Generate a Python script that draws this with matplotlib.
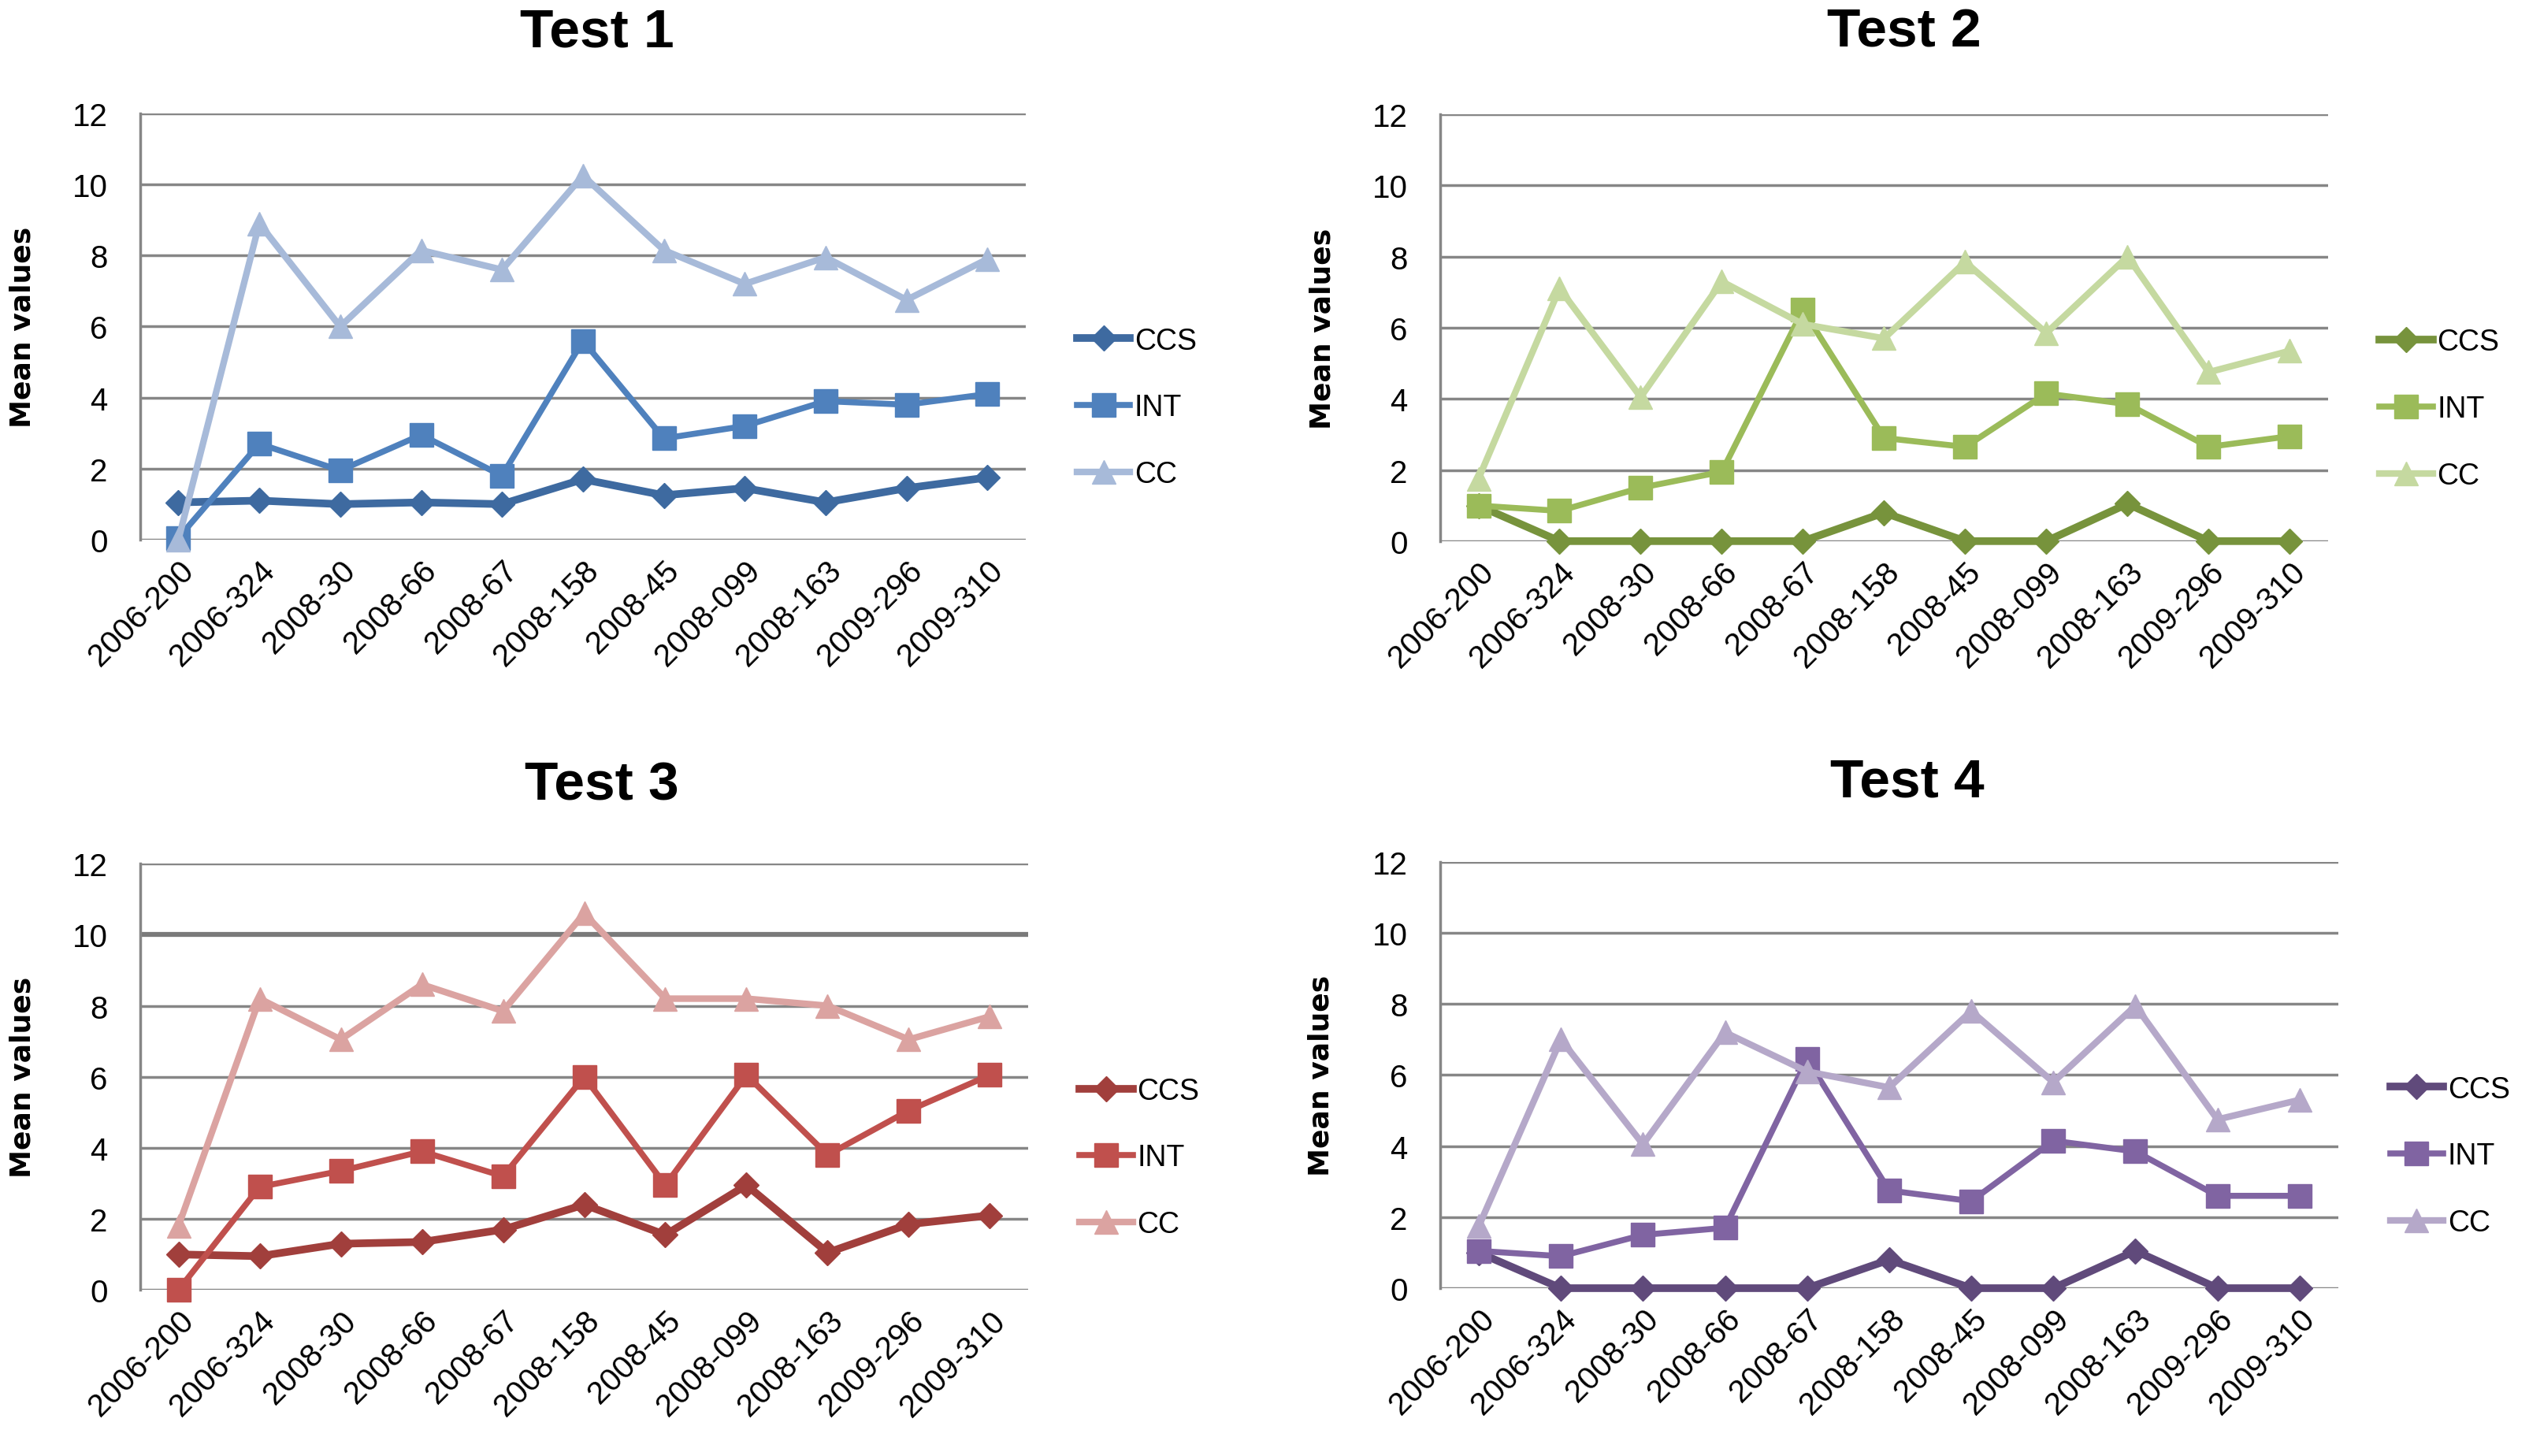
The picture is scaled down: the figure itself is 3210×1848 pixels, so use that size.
import matplotlib
matplotlib.use('Agg')
import matplotlib.pyplot as plt

plt.rcParams['font.family'] = ['Liberation Sans', 'DejaVu Sans']

# Data
samples = ['2006-200', '2006-324', '2008-30', '2008-66', '2008-67', '2008-158',
           '2008-45', '2008-099', '2008-163', '2009-296', '2009-310']
series_names = ['CCS', 'INT', 'CC']

test1_ccs = [1.05, 1.1, 1.0, 1.05, 1.0, 1.7, 1.25, 1.45, 1.05, 1.45, 1.75]
test1_int = [0.05, 2.7, 1.95, 2.95, 1.8, 5.6, 2.85, 3.2, 3.9, 3.8, 4.1]
test1_cc = [0.0, 8.9, 6.0, 8.15, 7.6, 10.25, 8.15, 7.2, 7.95, 6.75, 7.9]

test2_ccs = [1.0, 0, 0, 0, 0, 0.8, 0, 0, 1.05, 0, 0]
test2_int = [1.0, 0.85, 1.5, 1.95, 6.5, 2.9, 2.65, 4.15, 3.85, 2.65, 2.95]
test2_cc = [1.75, 7.1, 4.05, 7.3, 6.1, 5.7, 7.85, 5.85, 8.0, 4.75, 5.35]

test3_ccs = [1.0, 0.95, 1.3, 1.35, 1.7, 2.4, 1.55, 2.95, 1.05, 1.85, 2.1]
test3_int = [0.0, 2.9, 3.35, 3.9, 3.2, 6.0, 2.95, 6.05, 3.8, 5.05, 6.05]
test3_cc = [1.8, 8.2, 7.05, 8.6, 7.85, 10.6, 8.2, 8.2, 8.0, 7.05, 7.7]

test4_ccs = [1.0, 0, 0, 0, 0, 0.8, 0, 0, 1.05, 0, 0]
test4_int = [1.05, 0.9, 1.5, 1.7, 6.45, 2.75, 2.45, 4.15, 3.85, 2.6, 2.6]
test4_cc = [1.75, 7.0, 4.05, 7.2, 6.1, 5.65, 7.8, 5.8, 7.95, 4.75, 5.3]

panels = [
    ('Test 1', [test1_ccs, test1_int, test1_cc], ['#3e6aa0', '#4f81bd', '#a7bad9'],
     [0.0555, 0.629, 0.350, 0.2926], (0.236, 0.995)),
    ('Test 2', [test2_ccs, test2_int, test2_cc], ['#77933c', '#9bbb59', '#c5d9a0'],
     [0.5695, 0.628, 0.351, 0.2930], (0.753, 0.995)),
    ('Test 3', [test3_ccs, test3_int, test3_cc], ['#a13f3c', '#c0504d', '#dba3a1'],
     [0.0555, 0.114, 0.351, 0.2926], (0.238, 0.478)),
    ('Test 4', [test4_ccs, test4_int, test4_cc], ['#604a7b', '#8064a2', '#b5a8c9'],
     [0.5695, 0.1152, 0.355, 0.2926], (0.754, 0.480)),
]

markers = ['D', 's', '^']
msizes = [16, 22, 22]
lwidths = [7.0, 5.5, 6.0]

fig = plt.figure(figsize=(32.1, 18.49), dpi=100)

for title, data, colors, rect, tpos in panels:
    ax = fig.add_axes(rect)
    x = list(range(len(samples)))
    for vals, name, c, m, ms, lw in zip(data, series_names, colors, markers, msizes, lwidths):
        ax.plot(x, vals, color=c, marker=m, markersize=ms, linewidth=lw,
                label=name, clip_on=False, zorder=3)
    ax.set_xlim(-0.47, 10.47)
    ax.set_ylim(0, 12)
    ax.set_yticks(range(0, 13, 2))
    for yv in range(0, 13, 2):
        lc = '#868686'
        lwg = 2.5
        if title == 'Test 3' and yv == 10:
            lc = '#7a7a7a'
            lwg = 4.5
        ax.axhline(yv, color=lc, linewidth=lwg, zorder=1)
    for side in ['top', 'right', 'bottom']:
        ax.spines[side].set_visible(False)
    ax.spines['left'].set_color('#868686')
    ax.spines['left'].set_linewidth(2.5)
    ax.tick_params(axis='y', length=0, pad=30, labelsize=29)
    ax.tick_params(axis='x', length=0, pad=14, labelsize=29)
    ax.set_xticks(x)
    ax.set_xticklabels(samples, rotation=45, ha='right', va='top', rotation_mode='anchor')
    ax.set_ylabel('Mean values', fontsize=26, fontweight='bold', family='DejaVu Sans')
    ax.yaxis.set_label_coords(-0.118, 0.5)
    ax.legend(loc='center left', bbox_to_anchor=(1.058, 0.31), frameon=False,
              fontsize=27, labelspacing=1.3, handlelength=1.8, handletextpad=0.15,
              borderpad=0, borderaxespad=0)
    fig.text(tpos[0], tpos[1], title, ha='center', va='top', fontsize=50,
             fontweight='bold')

fig.savefig('out.png', dpi=100)
